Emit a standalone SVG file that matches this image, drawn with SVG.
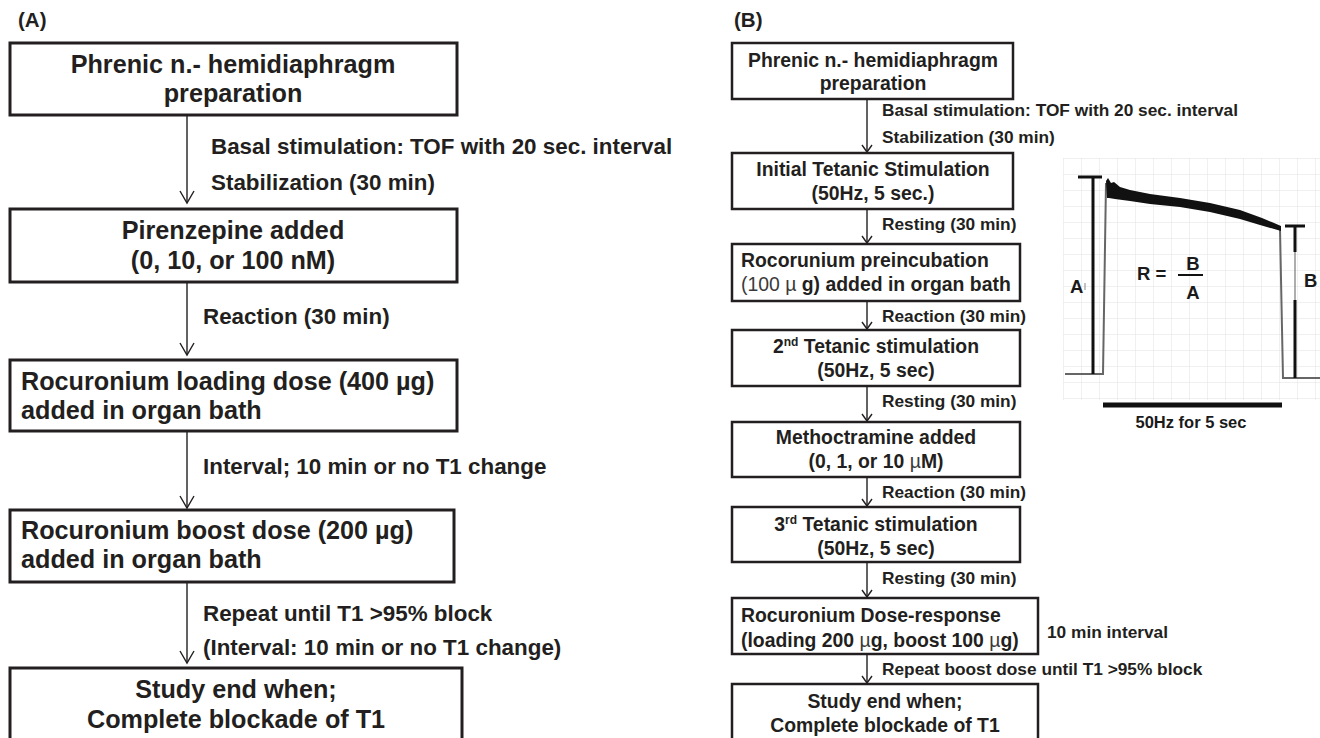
<svg xmlns="http://www.w3.org/2000/svg" width="1320" height="738" viewBox="0 0 1320 738">
<style>
  .boxA { fill: #ffffff; stroke: #231f20; stroke-width: 3; }
  .boxB { fill: #ffffff; stroke: #231f20; stroke-width: 2.5; }
  .t { font-family: 'Liberation Sans', Arial, Helvetica, sans-serif; font-weight: bold; fill: #231f20; }
  .ta { font-size: 25.2px; }
  .la { font-size: 22.4px; }
  .tb { font-size: 19.4px; }
  .lb { font-size: 17.3px; }
  .pl { font-size: 20.5px; }
  .mid { text-anchor: middle; }
  .reg { font-weight: normal; fill: #3a3a3a; }
  .conn { stroke: #231f20; stroke-width: 1.4; fill: none; }
  .head { stroke: #231f20; stroke-width: 1.4; fill: none; stroke-linejoin: miter; }
  .gfx { font-family: 'Liberation Sans', Arial, Helvetica, sans-serif; font-weight: bold; fill: #1a1a1a; }
</style>
<defs>
  <pattern id="grid" x="1063" y="158" width="18" height="16" patternUnits="userSpaceOnUse">
    <path d="M 0 0 H 18 M 0 0 V 16" stroke="#e2e2e2" stroke-width="1" fill="none"/>
  </pattern>
</defs>
<rect width="1320" height="738" fill="#ffffff"/>

<!-- Panel labels -->
<text class="t pl" x="18" y="27">(A)</text>
<text class="t pl" x="734" y="27">(B)</text>

<!-- Panel A nodes -->
<g id="a1">
  <rect class="boxA" x="10" y="43" width="447" height="72"/>
  <text class="t ta mid" x="233" y="73">Phrenic n.- hemidiaphragm</text>
  <text class="t ta mid" x="233" y="102">preparation</text>
</g>
<g id="a2">
  <rect class="boxA" x="10" y="209" width="447" height="73"/>
  <text class="t ta mid" x="233" y="239">Pirenzepine added</text>
  <text class="t ta mid" x="233" y="269">(0, 10, or 100 nM)</text>
</g>
<g id="a3">
  <rect class="boxA" x="10" y="360" width="447" height="71"/>
  <text class="t ta" x="21" y="390">Rocuronium loading dose (400 µg)</text>
  <text class="t ta" x="21" y="419">added in organ bath</text>
</g>
<g id="a4">
  <rect class="boxA" x="10" y="510" width="444" height="72"/>
  <text class="t ta" x="21" y="539">Rocuronium boost dose (200 µg)</text>
  <text class="t ta" x="21" y="568">added in organ bath</text>
</g>
<g id="a5">
  <rect class="boxA" x="10" y="668" width="452" height="90"/>
  <text class="t ta mid" x="236" y="698">Study end when;</text>
  <text class="t ta mid" x="236" y="728">Complete blockade of T1</text>
</g>

<!-- Panel B nodes -->
<g id="b1">
  <rect class="boxB" x="732" y="43" width="281" height="56"/>
  <text class="t tb mid" x="873" y="67">Phrenic n.- hemidiaphragm</text>
  <text class="t tb mid" x="873" y="90">preparation</text>
</g>
<g id="b2">
  <rect class="boxB" x="732" y="153" width="281" height="56"/>
  <text class="t tb mid" x="873" y="176">Initial Tetanic Stimulation</text>
  <text class="t tb mid" x="873" y="200">(50Hz, 5 sec.)</text>
</g>
<g id="b3">
  <rect class="boxB" x="732" y="244" width="288" height="57"/>
  <text class="t tb" x="741" y="267">Rocorunium preincubation</text>
  <text class="t tb" x="741" y="291"><tspan class="reg">(100 µ</tspan> g) added in organ bath</text>
</g>
<g id="b4">
  <rect class="boxB" x="732" y="330" width="288" height="56"/>
  <text class="t tb mid" x="876" y="353">2<tspan font-size="12" dy="-7">nd</tspan><tspan dy="7"> Tetanic stimulation</tspan></text>
  <text class="t tb mid" x="876" y="377">(50Hz, 5 sec)</text>
</g>
<g id="b5">
  <rect class="boxB" x="732" y="422" width="288" height="55"/>
  <text class="t tb mid" x="876" y="444">Methoctramine added</text>
  <text class="t tb mid" x="876" y="468">(0, 1, or 10 <tspan class="reg">µ</tspan>M)</text>
</g>
<g id="b6">
  <rect class="boxB" x="732" y="507" width="288" height="55"/>
  <text class="t tb mid" x="876" y="531">3<tspan font-size="12" dy="-7">rd</tspan><tspan dy="7"> Tetanic stimulation</tspan></text>
  <text class="t tb mid" x="876" y="555">(50Hz, 5 sec)</text>
</g>
<g id="b7">
  <rect class="boxB" x="732" y="598" width="306" height="56"/>
  <text class="t tb" x="741" y="622">Rocuronium Dose-response</text>
  <text class="t tb" x="741" y="647">(loading 200 <tspan class="reg">µ</tspan>g, boost 100 <tspan class="reg">µ</tspan>g)</text>
</g>
<g id="b8">
  <rect class="boxB" x="732" y="684" width="306" height="70"/>
  <text class="t tb mid" x="885" y="708">Study end when;</text>
  <text class="t tb mid" x="885" y="732">Complete blockade of T1</text>
</g>

<!-- Connectors -->
<g id="connectors">
  <!-- Panel A -->
  <line class="conn" x1="187" y1="115" x2="187" y2="203"/>
  <polyline class="head" points="180,191 187,203 194,191"/>
  <line class="conn" x1="187" y1="282" x2="187" y2="355"/>
  <polyline class="head" points="180,343 187,355 194,343"/>
  <line class="conn" x1="187" y1="431" x2="187" y2="508"/>
  <polyline class="head" points="180,496 187,508 194,496"/>
  <line class="conn" x1="187" y1="582" x2="187" y2="663"/>
  <polyline class="head" points="180,651 187,663 194,651"/>
  <!-- Panel B -->
  <line class="conn" x1="867" y1="99" x2="867" y2="152"/>
  <polyline class="head" points="862,145 867,152 872,145"/>
  <line class="conn" x1="867" y1="209" x2="867" y2="243"/>
  <polyline class="head" points="862,236 867,243 872,236"/>
  <line class="conn" x1="867" y1="301" x2="867" y2="329"/>
  <polyline class="head" points="862,322 867,329 872,322"/>
  <line class="conn" x1="867" y1="386" x2="867" y2="421"/>
  <polyline class="head" points="862,414 867,421 872,414"/>
  <line class="conn" x1="867" y1="477" x2="867" y2="506"/>
  <polyline class="head" points="862,499 867,506 872,499"/>
  <line class="conn" x1="867" y1="562" x2="867" y2="597"/>
  <polyline class="head" points="862,590 867,597 872,590"/>
  <line class="conn" x1="867" y1="654" x2="867" y2="683"/>
  <polyline class="head" points="862,676 867,683 872,676"/>
</g>

<!-- Connector labels -->
<g id="labels">
  <text class="t la" x="211" y="154">Basal stimulation: TOF with 20 sec. interval</text>
  <text class="t la" x="211" y="190">Stabilization (30 min)</text>
  <text class="t la" x="203" y="324">Reaction (30 min)</text>
  <text class="t la" x="203" y="474">Interval; 10 min or no T1 change</text>
  <text class="t la" x="203" y="621">Repeat until T1 &gt;95% block</text>
  <text class="t la" x="203" y="655">(Interval: 10 min or no T1 change)</text>

  <text class="t lb" x="882" y="116">Basal stimulation: TOF with 20 sec. interval</text>
  <text class="t lb" x="882" y="143">Stabilization (30 min)</text>
  <text class="t lb" x="882" y="230">Resting (30 min)</text>
  <text class="t lb" x="882" y="322">Reaction (30 min)</text>
  <text class="t lb" x="882" y="407">Resting (30 min)</text>
  <text class="t lb" x="882" y="498">Reaction (30 min)</text>
  <text class="t lb" x="882" y="584">Resting (30 min)</text>
  <text class="t lb" x="1047" y="638">10 min interval</text>
  <text class="t lb" x="882" y="675">Repeat boost dose until T1 &gt;95% block</text>
</g>

<!-- Tetanic trace figure -->
<g id="trace">
  <rect x="1063" y="158" width="257" height="242" fill="url(#grid)"/>
  <!-- baseline and edges -->
  <polyline points="1065,374 1103,374 1106,183" fill="none" stroke="#666" stroke-width="2"/>
  <polyline points="1280,229 1283,378 1320,378" fill="none" stroke="#666" stroke-width="2"/>
  <!-- plateau band -->
  <polygon points="1106,181 1108,178 1111,183 1114,182 1120,187 1130,190 1150,194 1180,198 1210,203 1240,210 1262,218 1281,226 1281,231 1260,225 1240,219 1210,212 1180,207 1150,204 1130,201 1115,199 1109,198 1107,198" fill="#111"/>
  <!-- A bar -->
  <line x1="1078" y1="177" x2="1102" y2="177" stroke="#111" stroke-width="3"/>
  <line x1="1093" y1="177" x2="1093" y2="374" stroke="#111" stroke-width="3"/>
  <line x1="1085" y1="283" x2="1085" y2="290" stroke="#888" stroke-width="1"/>
  <!-- B bar -->
  <line x1="1285" y1="226" x2="1305" y2="226" stroke="#111" stroke-width="3"/>
  <line x1="1295" y1="226" x2="1295" y2="252" stroke="#111" stroke-width="3"/>
  <line x1="1295" y1="252" x2="1295" y2="300" stroke="#777" stroke-width="1.2"/>
  <line x1="1295" y1="300" x2="1295" y2="378" stroke="#111" stroke-width="3"/>
  <!-- stimulation bar -->
  <line x1="1103" y1="405" x2="1282" y2="405" stroke="#111" stroke-width="5"/>
  <!-- labels -->
  <text class="gfx" x="1070" y="293" font-size="18.5">A</text>
  <text class="gfx" x="1137" y="280" font-size="18.5">R =</text>
  <text class="gfx" x="1193" y="270" font-size="18.5" text-anchor="middle">B</text>
  <line x1="1178" y1="275" x2="1203" y2="275" stroke="#111" stroke-width="2"/>
  <text class="gfx" x="1193" y="299" font-size="18.5" text-anchor="middle">A</text>
  <text class="gfx" x="1304" y="287" font-size="18.5">B</text>
  <text class="gfx" x="1191" y="428" font-size="16.5" text-anchor="middle">50Hz for 5 sec</text>
</g>
</svg>
